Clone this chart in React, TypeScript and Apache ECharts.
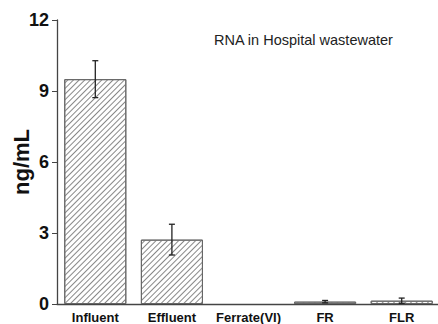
import React, { useEffect, useRef } from "react";
import * as echarts from "echarts";

const categories = ["Influent", "Effluent", "Ferrate(VI)", "FR", "FLR"];
const values = [9.5, 2.72, 0, 0.1, 0.14];
const errors = [0.78, 0.65, 0, 0.05, 0.11];
const yTicks = [0, 3, 6, 9, 12];
const titleText = "RNA in Hospital wastewater";
const yName = "ng/mL";

export default function App() {
  const ref = useRef<HTMLDivElement>(null);
  useEffect(() => {
    if (!ref.current) return;
    const chart = echarts.init(ref.current, null, { renderer: "svg" });
    const errData = values
      .map((v, i) => [i, v - errors[i], v + errors[i]])
      .filter((d, i) => errors[i] > 0);
    const barData = values.map((v) =>
      v === 0 ? { value: v, itemStyle: { borderWidth: 0 } } : v
    );
    chart.setOption({
      animation: false,
      backgroundColor: "#fff",
      title: {
        text: titleText,
        left: 209,
        top: 27,
        textStyle: { fontFamily: "Liberation Sans", fontSize: 14.5, fontWeight: "normal", color: "#222" },
      },
      grid: { left: 57, top: 20, bottom: 20, right: -2, containLabel: false, outerBoundsMode: "none" },
      xAxis: {
        type: "category",
        data: categories,
        axisLine: { lineStyle: { color: "#444", width: 1.3 } },
        axisTick: { alignWithLabel: true, length: 4, lineStyle: { color: "#444" } },
        axisLabel: {
          margin: 7,
          fontFamily: "Liberation Sans",
          fontWeight: "bold",
          fontSize: 13,
          color: "#111",
          interval: 0,
        },
      },
      yAxis: {
        type: "value",
        min: yTicks[0],
        max: yTicks[yTicks.length - 1],
        interval: 3,
        name: yName,
        nameLocation: "middle",
        nameGap: 25,
        nameMoveOverlap: false,
        nameTextStyle: { fontFamily: "Liberation Sans", fontWeight: "bold", fontSize: 22, color: "#111" },
        axisLine: { show: true, lineStyle: { color: "#444", width: 1.3 } },
        axisTick: { show: true, length: 5, lineStyle: { color: "#444" } },
        splitLine: { show: false },
        axisLabel: {
          margin: 8,
          fontFamily: "Liberation Sans",
          fontWeight: "bold",
          fontSize: 18,
          color: "#111",
        },
      },
      series: [
        {
          type: "bar",
          data: barData,
          barWidth: "81%",
          itemStyle: {
            color: "#fff",
            borderColor: "#666",
            borderWidth: 1,
            decal: {
              symbol: "rect",
              symbolSize: 1,
              dashArrayX: [1, 0],
              dashArrayY: [1, 3],
              rotation: -Math.PI / 4,
              color: "#888",
              backgroundColor: "#fff",
            },
          },
        },
        {
          type: "custom",
          z: 10,
          data: errData,
          encode: { x: 0, y: [1, 2] },
          renderItem: (params: any, api: any) => {
            const x = api.value(0);
            const lo = api.coord([x, api.value(1)]);
            const hi = api.coord([x, api.value(2)]);
            const cap = 3;
            const style = { stroke: "#222", lineWidth: 1.3 };
            return {
              type: "group",
              children: [
                { type: "line", shape: { x1: lo[0], y1: lo[1], x2: hi[0], y2: hi[1] }, style },
                { type: "line", shape: { x1: hi[0] - cap, y1: hi[1], x2: hi[0] + cap, y2: hi[1] }, style },
                { type: "line", shape: { x1: lo[0] - cap, y1: lo[1], x2: lo[0] + cap, y2: lo[1] }, style },
              ],
            };
          },
        },
      ],
    });
    return () => chart.dispose();
  }, []);
  return <div ref={ref} style={{ width: 438, height: 324, position: "absolute", left: 0, top: 0 }} />;
}
